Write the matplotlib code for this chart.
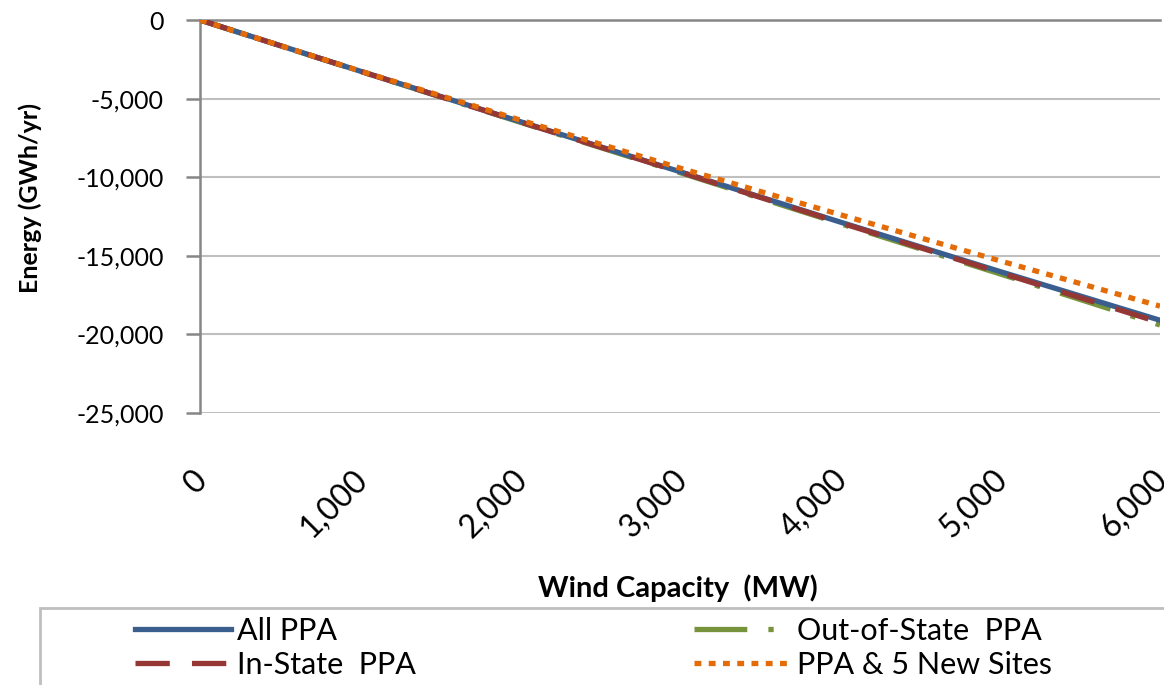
import numpy as np
import matplotlib
matplotlib.use('Agg')
import matplotlib.pyplot as plt
import matplotlib.transforms as mtransforms
from matplotlib.patches import Rectangle
from matplotlib.ticker import FuncFormatter

plt.rcParams['font.family'] = ['Lato', 'DejaVu Sans']

# wind capacity (MW) and energy change (GWh/yr)
capacity = [0, 1000, 2000, 3000, 4000, 5000, 6000]
all_ppa = [0, -3250, -6460, -9650, -12850, -16000, -19100]
out_state_ppa = [0, -3260, -6500, -9710, -12950, -16150, -19400]
in_state_ppa = [0, -3255, -6480, -9670, -12890, -16070, -19250]
ppa_new_sites = [0, -3240, -6360, -9420, -12380, -15320, -18200]

x_ticks = [0, 1000, 2000, 3000, 4000, 5000, 6000]
y_ticks = [0, -5000, -10000, -15000, -20000, -25000]

W, H = 1164, 685
fig = plt.figure(figsize=(W / 100, H / 100), dpi=100)
ax = fig.add_axes([200 / W, 1 - 413 / H, 960 / W, 393 / H])

lw = 3.8
ax.plot(capacity, out_state_ppa, color="#77933C", lw=lw, dashes=(10, 4, 1, 4),
        dash_capstyle='butt', label="Out-of-State  PPA", zorder=3)
ax.plot(capacity, all_ppa, color="#3A5F8F", lw=lw, label="All PPA", zorder=4)
ax.plot(capacity, in_state_ppa, color="#953735", lw=lw, dashes=(6.5, 4.2),
        dash_capstyle='butt', label="In-State  PPA", zorder=5)
ax.plot(capacity, ppa_new_sites, color="#E36C09", lw=lw, dashes=(1.3, 1.4),
        dash_capstyle='butt', label="PPA & 5 New Sites", zorder=6)

ax.set_xlim(0, 6000)
ax.set_ylim(-25000, 0)
ax.set_xticks(x_ticks)
ax.set_yticks(y_ticks)
ax.xaxis.set_major_formatter(FuncFormatter(lambda v, p: f"{int(v):,}"))
ax.yaxis.set_major_formatter(FuncFormatter(lambda v, p: f"{int(v):,}"))

ax.grid(axis='y', color="#BFBFBF", lw=1.5)
ax.set_axisbelow(True)
for s in ['right', 'bottom']:
    ax.spines[s].set_visible(False)
ax.spines['left'].set_color("#868686")
ax.spines['left'].set_linewidth(1.8)
ax.spines['top'].set_color("#868686")
ax.spines['top'].set_linewidth(1.8)

ax.tick_params(axis='y', length=10, width=1.8, color="#868686", labelsize=18, pad=16)
ax.tick_params(axis='x', length=0, labelsize=23, pad=37)
shift = mtransforms.ScaledTranslation(-8 / 100, 0, fig.dpi_scale_trans)
for lab in ax.get_xticklabels():
    lab.set_rotation(45)
    lab.set_ha('right')
    lab.set_va('top')
    lab.set_rotation_mode('anchor')
    lab.set_transform(lab.get_transform() + shift)

fig.text(30 / W, 1 - 198 / H, "Energy (GWh/yr)", fontsize=18, fontweight='bold',
         rotation=90, ha='center', va='center')
fig.text(678 / W, 1 - 588 / H, "Wind Capacity  (MW)", fontsize=21,
         fontweight='bold', ha='center', va='center')

# legend box (runs past the bottom edge like the original)
fig.patches.append(Rectangle((40 / W, -0.05), 1130 / W, 0.05 + 77 / H,
                             transform=fig.transFigure, fill=False,
                             edgecolor="#BFBFBF", lw=2, clip_on=False))

handles, labels = ax.get_legend_handles_labels()
order = [1, 2, 0, 3]
leg = fig.legend([handles[i] for i in order], [labels[i] for i in order],
                 loc='upper left', bbox_to_anchor=(135 / W, 1 - 617 / H),
                 ncol=2, fontsize=22, frameon=False,
                 handlelength=3.15, handletextpad=0.2, borderaxespad=0,
                 borderpad=0, labelspacing=0.2, columnspacing=9.1)

fig.savefig("out.png", dpi=100)
